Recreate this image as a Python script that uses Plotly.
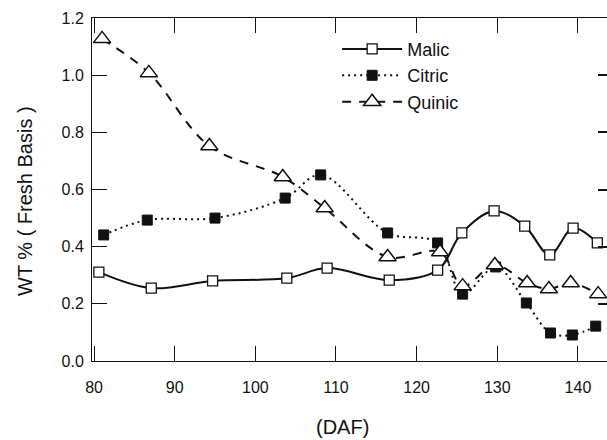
import plotly.graph_objects as go

# Days after flowering (DAF) and WT % (fresh basis)
malic_daf = [80.6, 87.1, 94.7, 103.9, 108.9, 116.6, 122.6, 125.6, 129.6, 133.4, 136.5, 139.4, 142.4]
malic_wt = [0.311, 0.255, 0.280, 0.290, 0.325, 0.283, 0.318, 0.448, 0.525, 0.472, 0.371, 0.465, 0.413]

citric_daf = [81.2, 86.6, 95.0, 103.7, 108.1, 116.4, 122.6, 125.7, 129.8, 133.6, 136.6, 139.3, 142.2]
citric_wt = [0.441, 0.493, 0.500, 0.570, 0.651, 0.448, 0.413, 0.234, 0.329, 0.203, 0.098, 0.091, 0.122]

quinic_daf = [81.0, 86.8, 94.3, 103.4, 108.6, 116.4, 122.9, 125.7, 129.7, 133.7, 136.4, 139.1, 142.5]
quinic_wt = [1.127, 1.008, 0.752, 0.644, 0.535, 0.364, 0.381, 0.262, 0.336, 0.273, 0.252, 0.273, 0.234]

x_ticks = [80, 90, 100, 110, 120, 130, 140]
y_ticks = [0.0, 0.2, 0.4, 0.6, 0.8, 1.0, 1.2]

FONT = "Liberation Sans, Arial, Helvetica, sans-serif"
INK = "#111111"

fig = go.Figure()

fig.add_trace(go.Scatter(
    x=malic_daf, y=malic_wt, name="Malic", mode="lines+markers",
    line=dict(color=INK, width=2, shape="spline", smoothing=1.0),
    marker=dict(symbol="square", size=10, color="white", line=dict(color=INK, width=1.3)),
    legendgroup="m",
))
fig.add_trace(go.Scatter(
    x=citric_daf, y=citric_wt, name="Citric", mode="lines+markers",
    line=dict(color=INK, width=2, dash="2px,4px", shape="spline", smoothing=1.0),
    marker=dict(symbol="square", size=10, color=INK, line=dict(color=INK, width=1)),
    legendgroup="c",
))
fig.add_trace(go.Scatter(
    x=quinic_daf, y=quinic_wt, name="Quinic", mode="lines+markers",
    line=dict(color=INK, width=2, dash="9px,8px", shape="spline", smoothing=1.0),
    marker=dict(symbol="triangle-up", size=15, color="white", line=dict(color=INK, width=1.5)),
    legendgroup="q",
))
# empty trace so the right-hand tick axis is drawn
fig.add_trace(go.Scatter(x=[], y=[], yaxis="y2", showlegend=False, hoverinfo="skip"))

fig.update_layout(
    width=607, height=440,
    margin=dict(l=92, r=0, t=18, b=79),
    paper_bgcolor="white", plot_bgcolor="white",
    font=dict(family=FONT, size=16, color=INK),
    showlegend=True,
    legend=dict(
        x=0.476, y=0.963, xanchor="left", yanchor="top",
        bgcolor="rgba(0,0,0,0)", font=dict(size=18, family=FONT, color=INK),
        itemwidth=60, tracegroupgap=8, traceorder="normal",
    ),
    xaxis=dict(
        range=[79.75, 143.6], tickvals=x_ticks, ticktext=[str(v) for v in x_ticks],
        showgrid=False, zeroline=False, showline=True, linecolor=INK, linewidth=1,
        mirror="ticks", ticks="inside", ticklen=15, tickcolor=INK, tickwidth=1,
        ticklabelstandoff=12, tickfont=dict(size=16),
    ),
    yaxis=dict(
        range=[0, 1.2], tickvals=y_ticks, ticktext=[f"{v:.1f}" for v in y_ticks],
        showgrid=False, zeroline=False, showline=True, linecolor=INK, linewidth=1,
        mirror=False, ticks="inside", ticklen=15, tickcolor=INK, tickwidth=1,
        ticklabelstandoff=4, tickfont=dict(size=16),
    ),
    yaxis2=dict(
        range=[0, 1.2], tickvals=y_ticks, overlaying="y", side="right",
        anchor="x", showticklabels=False,
        showgrid=False, zeroline=False, showline=False,
        ticks="inside", ticklen=9, tickcolor=INK, tickwidth=1.5,
    ),
    annotations=[
        dict(text="WT % ( Fresh Basis )", xref="paper", yref="paper",
             x=(25 - 92) / 515, y=(361 - 201) / 343, xanchor="center", yanchor="middle",
             textangle=-90, showarrow=False, font=dict(size=20, family=FONT, color=INK)),
        dict(text="(DAF)", xref="paper", yref="paper",
             x=(342 - 92) / 515, y=-(427 - 361) / 343, xanchor="center", yanchor="middle",
             showarrow=False, font=dict(size=20, family=FONT, color=INK)),
    ],
)

fig.write_html(
    "out.html",
    config={"displayModeBar": False},
    post_script="document.body.style.margin='0px';document.body.style.overflow='hidden';",
)
